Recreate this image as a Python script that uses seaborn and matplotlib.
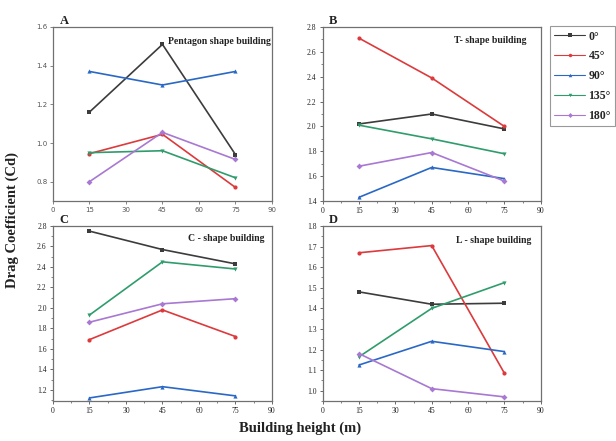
import matplotlib
matplotlib.use("Agg")
import matplotlib.pyplot as plt
from matplotlib.ticker import MultipleLocator
from matplotlib.lines import Line2D
import seaborn as sns
import pandas as pd

# Building heights (m) at which drag was evaluated
heights = [15, 45, 75]

# Wind incidence angles
angles = ["0°", "45°", "90°", "135°", "180°"]

# Drag coefficient per angle, one list per building shape (values at 15, 45, 75 m)
pentagon_cd = {
    "0°":   [1.16, 1.51, 0.94],
    "45°":  [0.945, 1.045, 0.77],
    "90°":  [1.37, 1.30, 1.37],
    "135°": [0.95, 0.96, 0.82],
    "180°": [0.80, 1.055, 0.915],
}
t_shape_cd = {
    "0°":   [2.02, 2.10, 1.98],
    "45°":  [2.71, 2.39, 2.00],
    "90°":  [1.43, 1.67, 1.58],
    "135°": [2.01, 1.90, 1.78],
    "180°": [1.68, 1.79, 1.56],
}
c_shape_cd = {
    "0°":   [2.75, 2.57, 2.43],
    "45°":  [1.69, 1.98, 1.72],
    "90°":  [1.12, 1.23, 1.14],
    "135°": [1.93, 2.45, 2.38],
    "180°": [1.86, 2.04, 2.09],
}
l_shape_cd = {
    "0°":   [1.48, 1.42, 1.425],
    "45°":  [1.67, 1.705, 1.085],
    "90°":  [1.125, 1.24, 1.19],
    "135°": [1.165, 1.40, 1.525],
    "180°": [1.18, 1.01, 0.97],
}

colors = ["#3c3c3c", "#dc3a3c", "#2a68c6", "#2f9c6c", "#a878d2"]
markers = ["s", "o", "^", "v", "D"]
palette = dict(zip(angles, colors))
marker_map = dict(zip(angles, markers))

sns.set_theme(style="ticks")
plt.rcParams["font.family"] = ["Liberation Serif", "DejaVu Serif"]


def to_long(table):
    rows = []
    for ang in angles:
        for h, v in zip(heights, table[ang]):
            rows.append({"height": h, "Cd": v, "angle": ang})
    return pd.DataFrame(rows)


fig = plt.figure(figsize=(6.16, 4.41), dpi=100)

panels = [
    # letter, title, data, rect, ylim, major step, title position, sans ticks
    ("A", "Pentagon shape building", pentagon_cd,
     [0.086, 0.5442, 0.3555, 0.3946], (0.7, 1.6), 0.2, (0.995, 0.915), True),
    ("B", "T- shape building", t_shape_cd,
     [0.5239, 0.5442, 0.3539, 0.3946], (1.4, 2.8), 0.2, (0.935, 0.92), False),
    ("C", "C - shape building", c_shape_cd,
     [0.086, 0.0907, 0.3555, 0.3968], (1.09, 2.8), 0.2, (0.965, 0.93), False),
    ("D", "L - shape building", l_shape_cd,
     [0.5239, 0.0907, 0.3539, 0.3968], (0.95, 1.8), 0.1, (0.955, 0.915), False),
]

for letter, title, table, rect, ylim, major, txy, sans in panels:
    ax = fig.add_axes(rect)
    df = to_long(table)
    sns.lineplot(data=df, x="height", y="Cd", hue="angle", style="angle",
                 hue_order=angles, style_order=angles, palette=palette,
                 markers=marker_map, dashes=False, markersize=3,
                 markeredgewidth=0, linewidth=1.2, legend=False, ax=ax)
    ax.set_xlim(0, 90)
    ax.set_ylim(*ylim)
    ax.xaxis.set_major_locator(MultipleLocator(15))
    ax.yaxis.set_major_locator(MultipleLocator(major))
    ax.yaxis.set_major_formatter(plt.FormatStrFormatter("%.1f"))
    ax.set_xlabel("")
    ax.set_ylabel("")
    for s in ax.spines.values():
        s.set_color("#707070")
        s.set_linewidth(0.9)
    if sans:
        ax.tick_params(axis="both", labelsize=5, colors="#707070",
                       labelcolor="#555555", length=2, width=0.6, pad=2)
        for lab in ax.get_xticklabels() + ax.get_yticklabels():
            lab.set_family("DejaVu Sans")
    else:
        ax.xaxis.set_minor_locator(MultipleLocator(7.5))
        ax.yaxis.set_minor_locator(MultipleLocator(major / 2))
        ax.tick_params(axis="both", which="major", labelsize=5.5,
                       colors="#505050", labelcolor="#222222",
                       length=2.5, width=0.6, pad=2)
        ax.tick_params(axis="both", which="minor", colors="#505050",
                       length=1.5, width=0.5)
    ax.text(txy[0], txy[1], title, transform=ax.transAxes, ha="right",
            va="center", fontsize=7, fontweight="bold", color="#222222")
    ax.text(0.03, 1.0, letter, transform=ax.transAxes, ha="left",
            va="bottom", fontsize=9, fontweight="bold", color="#222222")

# Shared legend for the wind angles
handles = [Line2D([], [], color=c, marker=m, markersize=2.5, markeredgewidth=0,
                  linewidth=0.8) for c, m in zip(colors, markers)]
leg = fig.legend(handles, angles, loc="upper left",
                 bbox_to_anchor=(0.893, 0.94), frameon=True, fancybox=False,
                 prop={"family": "Liberation Serif", "weight": "bold", "size": 8.5},
                 handlelength=2.6, handletextpad=0.3, labelspacing=0.66,
                 borderpad=0.35, borderaxespad=0.0, numpoints=1)
leg.get_frame().set_edgecolor("#808080")
leg.get_frame().set_linewidth(0.8)

fig.text(0.487, 0.03, "Building height (m)", ha="center", va="center",
         fontsize=10.5, fontweight="bold", color="#222222")
fig.text(0.02, 0.5, "Drag Coefficient (Cd)", ha="center", va="center",
         rotation=90, fontsize=10.5, fontweight="bold", color="#222222")

fig.savefig("out.png", dpi=100)
